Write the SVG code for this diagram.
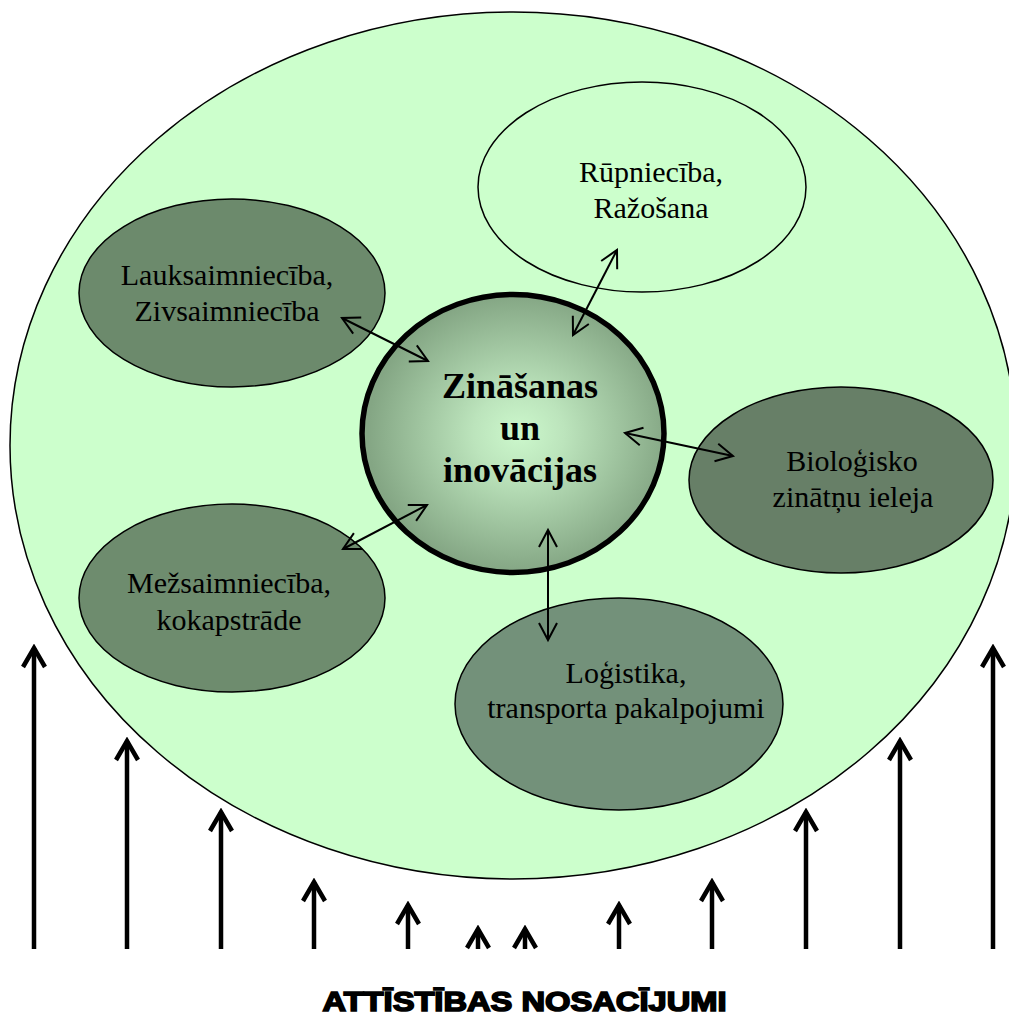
<svg xmlns="http://www.w3.org/2000/svg" width="1009" height="1016" viewBox="0 0 1009 1016">
<style>
.lbl{font-family:"Liberation Serif","Times New Roman",serif;font-size:30px;fill:#000;text-anchor:middle}
.big{font-family:"Liberation Serif","Times New Roman",serif;font-size:36px;font-weight:bold;fill:#000;text-anchor:middle}
.dark{stroke:#000;stroke-width:1.5}
.con{stroke:#000;stroke-width:2;fill:none;marker-start:url(#ah);marker-end:url(#ah)}
.up{stroke:#000;stroke-width:4.5;fill:none;marker-end:url(#uh)}
</style>
<defs>
<radialGradient id="cg" cx="0.52" cy="0.5" r="0.5">
<stop offset="0" stop-color="#CCF8CC"/>
<stop offset="0.3" stop-color="#BCE4BC"/>
<stop offset="1" stop-color="#84A684"/>
</radialGradient>
<marker id="ah" viewBox="-20 -12 24 24" refX="0" refY="0" markerWidth="24" markerHeight="24" markerUnits="userSpaceOnUse" orient="auto-start-reverse">
<path d="M -17 -9 L 0 0 L -17 9" fill="none" stroke="#000" stroke-width="2"/>
</marker>
<marker id="uh" viewBox="-24 -14 28 28" refX="0" refY="0" markerWidth="28" markerHeight="28" markerUnits="userSpaceOnUse" orient="auto">
<path d="M -19 -11 L 0 0 L -19 11" fill="none" stroke="#000" stroke-width="4.5"/>
</marker>
</defs>
<rect width="1009" height="1016" fill="#fff"/>
<g id="outer">
<ellipse cx="513" cy="445.5" rx="503" ry="433.5" fill="#CCFFCC" stroke="#000" stroke-width="1.5"/>
</g>
<g id="rupnieciba">
<ellipse cx="642" cy="187" rx="164" ry="105" fill="#CCFFCC" stroke="#000" stroke-width="1.5"/>
<text class="lbl" x="651" y="182">Rūpniecība,</text>
<text class="lbl" x="651" y="218">Ražošana</text>
</g>
<g id="lauksaimnieciba">
<ellipse cx="232" cy="293" rx="153" ry="94" fill="#6C8A6C" class="dark"/>
<text class="lbl" x="227" y="285">Lauksaimniecība,</text>
<text class="lbl" x="227" y="321">Zivsaimniecība</text>
</g>
<g id="biologisko">
<ellipse cx="841" cy="480" rx="152" ry="93" fill="#677F67" class="dark"/>
<text class="lbl" x="852" y="471">Bioloģisko</text>
<text class="lbl" x="853" y="507">zinātņu ieleja</text>
</g>
<g id="mezsaimnieciba">
<ellipse cx="232" cy="598" rx="153" ry="94" fill="#6E8C6E" class="dark"/>
<text class="lbl" x="229" y="593">Mežsaimniecība,</text>
<text class="lbl" x="229" y="630">kokapstrāde</text>
</g>
<g id="logistika">
<ellipse cx="619" cy="704" rx="164" ry="106" fill="#73917A" class="dark"/>
<text class="lbl" x="626" y="683">Loģistika,</text>
<text class="lbl" x="626" y="718">transporta pakalpojumi</text>
</g>
<g id="zinasanas">
<ellipse cx="513" cy="433.5" rx="151" ry="139" fill="url(#cg)" stroke="#000" stroke-width="5.5"/>
<text class="big" x="520" y="398">Zināšanas</text>
<text class="big" x="520" y="440">un</text>
<text class="big" x="520" y="482">inovācijas</text>
</g>
<g id="connectors">
<line class="con" x1="342" y1="318" x2="428" y2="361"/>
<line class="con" x1="343" y1="549" x2="427" y2="505"/>
<line class="con" x1="617" y1="250" x2="573" y2="335"/>
<line class="con" x1="733" y1="456" x2="625" y2="433"/>
<line class="con" x1="548" y1="530" x2="548" y2="640"/>
</g>
<g id="conditions">
<line class="up" x1="34" y1="949" x2="34" y2="648"/>
<line class="up" x1="127" y1="949" x2="127" y2="741"/>
<line class="up" x1="221" y1="949" x2="221" y2="812"/>
<line class="up" x1="314" y1="949" x2="314" y2="882"/>
<line class="up" x1="408" y1="949" x2="408" y2="905"/>
<line class="up" x1="478" y1="949" x2="478" y2="929"/>
<line class="up" x1="525" y1="949" x2="525" y2="929"/>
<line class="up" x1="619" y1="949" x2="619" y2="905"/>
<line class="up" x1="712" y1="949" x2="712" y2="882"/>
<line class="up" x1="806" y1="949" x2="806" y2="812"/>
<line class="up" x1="900" y1="949" x2="900" y2="741"/>
<line class="up" x1="993" y1="949" x2="993" y2="648"/>
<text x="524.5" y="1011" font-family="'Liberation Sans',Arial,sans-serif" font-size="27" font-weight="bold" text-anchor="middle" textLength="404" lengthAdjust="spacingAndGlyphs" stroke="#000" stroke-width="1.6">ATTĪSTĪBAS NOSACĪJUMI</text>
</g>
</svg>
